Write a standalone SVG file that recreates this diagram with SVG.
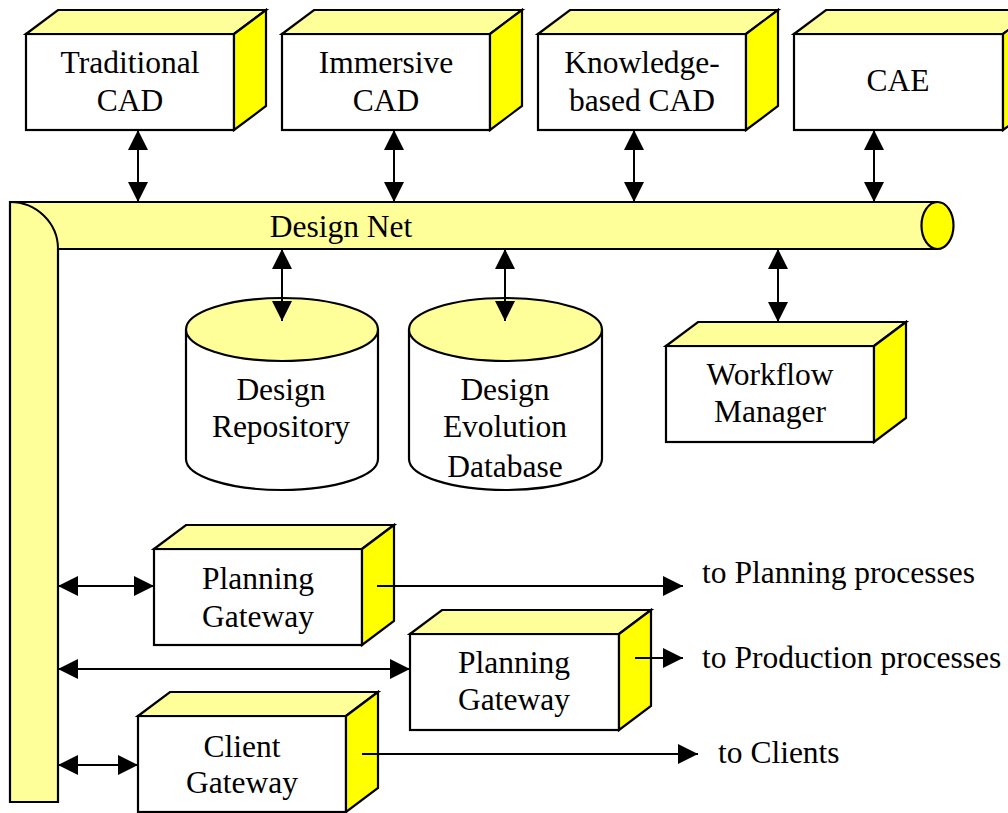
<svg xmlns="http://www.w3.org/2000/svg" width="1008" height="813" viewBox="0 0 1008 813">
<style>
.ln{stroke:#000;stroke-width:2;fill:none}
.front{fill:#fff;stroke:#000;stroke-width:2.2;stroke-linejoin:miter}
.top{fill:#FFFF99;stroke:#000;stroke-width:2.2;stroke-linejoin:miter}
.side{fill:#FFFF00;stroke:#000;stroke-width:2.2;stroke-linejoin:miter}
.pipe{fill:#FFFF99;stroke:#000;stroke-width:2.2}
.cyl{fill:#fff;stroke:#000;stroke-width:2.2}
text{font-family:"Liberation Serif","Times New Roman",serif;font-size:31.5px;fill:#000}
.c{text-anchor:middle}
</style>
<defs>
<marker id="ah" markerUnits="userSpaceOnUse" markerWidth="20" markerHeight="20" refX="20" refY="10" orient="auto-start-reverse" viewBox="0 0 20 20">
<path d="M0,0 L20,10 L0,20 Z" fill="#000"/>
</marker>
</defs>
<rect width="1008" height="813" fill="#fff"/>

<g id="design-net">
<path class="pipe" d="M10,202 L937,202 L937,249 L58,249 L58,802 L10,802 Z"/>
<path class="ln" d="M10,202 A48,47 0 0 1 58,249" stroke-width="2.2"/>
<ellipse cx="937.5" cy="225.5" rx="16" ry="23.5" fill="#FFFF00" stroke="#000" stroke-width="2.2"/>
<text class="c" x="341" y="237">Design Net</text>
</g>

<g id="traditional-cad">
<rect class="front" x="26" y="34" width="208" height="96"/>
<polygon class="top" points="26,34 58,10 266,10 234,34"/>
<polygon class="side" points="234,34 266,10 266,106 234,130"/>
<text class="c" x="130" y="73">Traditional</text>
<text class="c" x="130" y="111">CAD</text>
</g>

<g id="immersive-cad">
<rect class="front" x="282" y="34" width="208" height="96"/>
<polygon class="top" points="282,34 314,10 522,10 490,34"/>
<polygon class="side" points="490,34 522,10 522,106 490,130"/>
<text class="c" x="386" y="73">Immersive</text>
<text class="c" x="386" y="111">CAD</text>
</g>

<g id="knowledge-cad">
<rect class="front" x="538" y="34" width="208" height="96"/>
<polygon class="top" points="538,34 570,10 778,10 746,34"/>
<polygon class="side" points="746,34 778,10 778,106 746,130"/>
<text class="c" x="642" y="73">Knowledge-</text>
<text class="c" x="642" y="111">based CAD</text>
</g>

<g id="cae">
<rect class="front" x="794" y="34" width="209" height="96"/>
<polygon class="top" points="794,34 826,10 1035,10 1003,34"/>
<polygon class="side" points="1003,34 1035,10 1035,106 1003,130"/>
<text class="c" x="898" y="91">CAE</text>
</g>

<g id="design-repository">
<path class="cyl" d="M186,329.5 L186,459 A96,31 0 0 0 378,459 L378,329.5"/>
<ellipse cx="282" cy="329.5" rx="96" ry="31.5" fill="#FFFF99" stroke="#000" stroke-width="2.2"/>
<text class="c" x="281" y="400">Design</text>
<text class="c" x="281" y="437">Repository</text>
</g>

<g id="design-evolution-database">
<path class="cyl" d="M409,329.5 L409,459 A96.5,31 0 0 0 602,459 L602,329.5"/>
<ellipse cx="505.5" cy="329.5" rx="96.5" ry="31.5" fill="#FFFF99" stroke="#000" stroke-width="2.2"/>
<text class="c" x="505" y="400">Design</text>
<text class="c" x="505" y="437">Evolution</text>
<text class="c" x="505" y="477">Database</text>
</g>

<g id="workflow-manager">
<rect class="front" x="666" y="346" width="208" height="96"/>
<polygon class="top" points="666,346 698,322 906,322 874,346"/>
<polygon class="side" points="874,346 906,322 906,418 874,442"/>
<text class="c" x="770" y="385">Workflow</text>
<text class="c" x="770" y="422">Manager</text>
</g>

<g id="planning-gateway-1">
<rect class="front" x="154" y="549" width="208" height="96"/>
<polygon class="top" points="154,549 186,525 394,525 362,549"/>
<polygon class="side" points="362,549 394,525 394,621 362,645"/>
<text class="c" x="258" y="589">Planning</text>
<text class="c" x="258" y="627">Gateway</text>
</g>

<g id="planning-gateway-2">
<rect class="front" x="410" y="634" width="209" height="96"/>
<polygon class="top" points="410,634 442,610 651,610 619,634"/>
<polygon class="side" points="619,634 651,610 651,706 619,730"/>
<text class="c" x="514" y="673">Planning</text>
<text class="c" x="514" y="710">Gateway</text>
</g>

<g id="client-gateway">
<rect class="front" x="138" y="716" width="208" height="96"/>
<polygon class="top" points="138,716 170,692 378,692 346,716"/>
<polygon class="side" points="346,716 378,692 378,788 346,812"/>
<text class="c" x="242" y="757">Client</text>
<text class="c" x="242" y="793">Gateway</text>
</g>

<g id="connectors">
<line class="ln" x1="138" y1="130" x2="138" y2="202" marker-start="url(#ah)" marker-end="url(#ah)"/>
<line class="ln" x1="394" y1="130" x2="394" y2="202" marker-start="url(#ah)" marker-end="url(#ah)"/>
<line class="ln" x1="634" y1="130" x2="634" y2="202" marker-start="url(#ah)" marker-end="url(#ah)"/>
<line class="ln" x1="874" y1="130" x2="874" y2="202" marker-start="url(#ah)" marker-end="url(#ah)"/>
<line class="ln" x1="282" y1="249" x2="282" y2="321" marker-start="url(#ah)" marker-end="url(#ah)"/>
<line class="ln" x1="505" y1="249" x2="505" y2="321" marker-start="url(#ah)" marker-end="url(#ah)"/>
<line class="ln" x1="778" y1="249" x2="778" y2="322" marker-start="url(#ah)" marker-end="url(#ah)"/>
<line class="ln" x1="58" y1="586" x2="154" y2="586" marker-start="url(#ah)" marker-end="url(#ah)"/>
<line class="ln" x1="58" y1="669" x2="410" y2="669" marker-start="url(#ah)" marker-end="url(#ah)"/>
<line class="ln" x1="58" y1="765" x2="138" y2="765" marker-start="url(#ah)" marker-end="url(#ah)"/>
<line class="ln" x1="377" y1="586" x2="683" y2="586" marker-end="url(#ah)"/>
<line class="ln" x1="635" y1="658" x2="683" y2="658" marker-end="url(#ah)"/>
<line class="ln" x1="362" y1="754" x2="698" y2="754" marker-end="url(#ah)"/>
</g>

<g id="labels">
<text x="702" y="583">to Planning processes</text>
<text x="702" y="668">to Production processes</text>
<text x="718" y="763">to Clients</text>
</g>
</svg>
